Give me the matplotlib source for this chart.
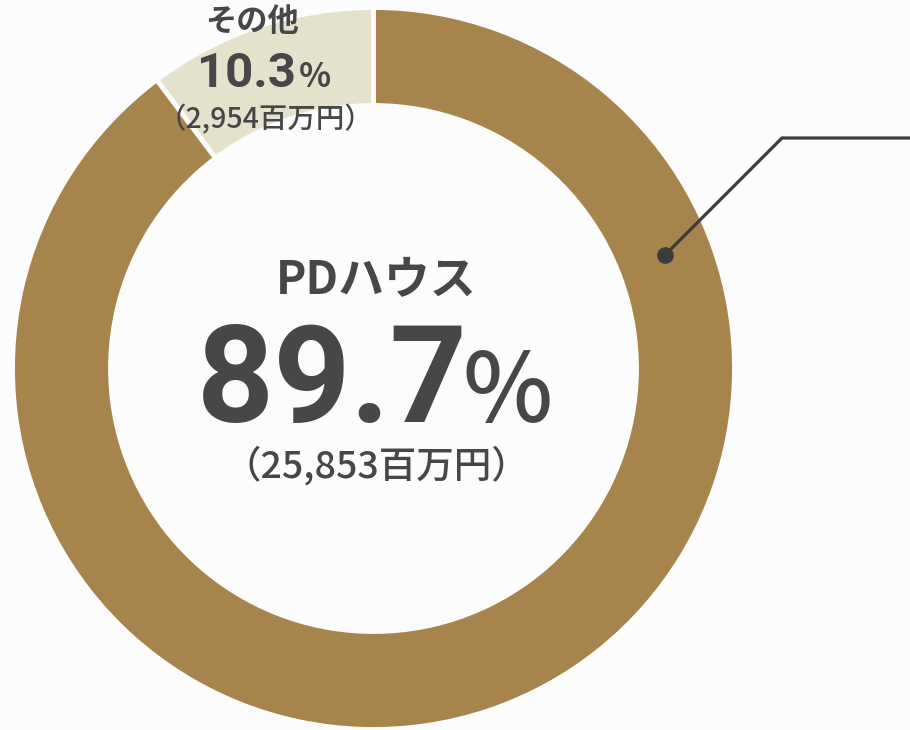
#!/usr/bin/env python3
# -*- coding: utf-8 -*-

import matplotlib
matplotlib.use("Agg")
import matplotlib.pyplot as plt

plt.rcParams['font.family'] = ['Noto Sans CJK JP', 'DejaVu Sans']

# data (百万円)
labels  = ["その他", "PDハウス"]
amounts = [2954, 25853]
shares  = ["10.3", "89.7"]
colors  = ["#E4E1CD", "#A6844B"]

text_color = "#474747"
bg_color   = "#FCFCFC"
num_font   = ['Roboto', 'Noto Sans CJK JP']

fig = plt.figure(figsize=(9.1, 7.3), dpi=100, facecolor=bg_color)
ax = fig.add_axes([0, 0, 1, 1])
ax.set_facecolor(bg_color)

# donut
ax.pie(amounts, colors=colors, startangle=90, counterclock=True,
       radius=361, center=(373.5, 361.5),
       wedgeprops=dict(width=98, edgecolor=bg_color, linewidth=3.5))
ax.set_xlim(0, 910)
ax.set_ylim(0, 730)
ax.set_aspect("equal")
ax.axis("off")

# center label (PDハウス)
ax.text(376, 449, labels[1], ha="center", va="center",
        fontsize=33, fontweight="bold", color=text_color)
ax.text(468, 308, shares[1], ha="right", va="baseline", family=num_font,
        fontsize=97, fontweight="bold", color=text_color)
ax.text(463, 308, "%", ha="left", va="baseline",
        fontsize=69, fontweight="medium", color=text_color)
ax.text(376, 264, "（{:,}百万円）".format(amounts[1]), ha="center", va="center",
        fontsize=27, fontweight="medium", color=text_color)

# small slice label (その他)
ax.text(252, 708, labels[0], ha="center", va="center",
        fontsize=22.5, fontweight="bold", color=text_color)
ax.text(296, 643, shares[0], ha="right", va="baseline", family=num_font,
        fontsize=35.5, fontweight="bold", color=text_color)
ax.text(299, 643, "%", ha="left", va="baseline",
        fontsize=24, fontweight="bold", color=text_color)
ax.text(266, 611, "（{:,}百万円）".format(amounts[0]), ha="center", va="center",
        fontsize=20.5, fontweight="medium", color=text_color)

# leader line
ax.plot([665, 782, 910], [730 - 255, 730 - 138, 730 - 138],
        color="#3C3C3C", linewidth=2.3, solid_joinstyle="miter")
ax.plot([665], [730 - 255], "o", color="#3C3C3C", markersize=11)

fig.savefig("out.png", dpi=100, facecolor=bg_color)
